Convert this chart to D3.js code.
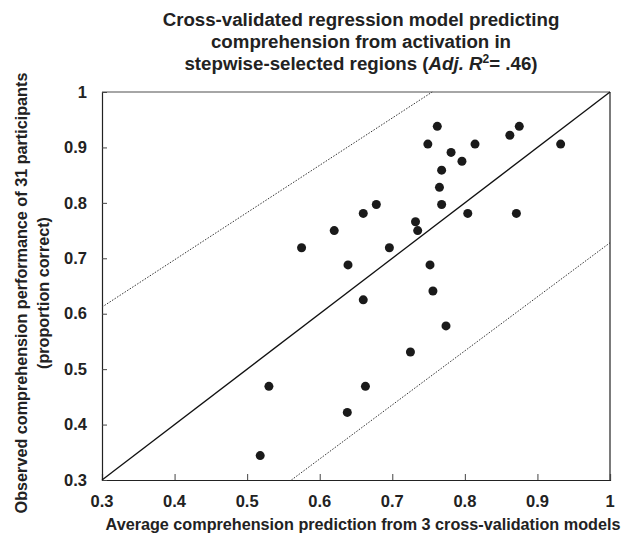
<!DOCTYPE html>
<html>
<head>
<meta charset="utf-8">
<script src="https://cdn.jsdelivr.net/npm/d3@7"></script>
<style>
  body { margin: 0; background: #fff; }
  text { font-family: "Liberation Sans", Arial, sans-serif; font-weight: bold; fill: #222; }
</style>
</head>
<body>
<div id="chart"></div>
<script>
// predicted (x) vs observed (y) comprehension, one per participant
var predicted = [0.762, 0.875, 0.862, 0.749, 0.814, 0.932, 0.781, 0.796, 0.768, 0.765,
    0.768, 0.678, 0.660, 0.804, 0.871, 0.732, 0.735, 0.696, 0.752, 0.639,
    0.620, 0.575, 0.530, 0.638, 0.518, 0.660, 0.756, 0.774, 0.725, 0.663];
var observed = [0.938, 0.938, 0.922, 0.906, 0.906, 0.906, 0.891, 0.875, 0.859, 0.828,
    0.797, 0.797, 0.781, 0.781, 0.781, 0.766, 0.750, 0.719, 0.688, 0.688,
    0.750, 0.719, 0.469, 0.422, 0.344, 0.625, 0.641, 0.578, 0.531, 0.469];
var xTicks = [0.3, 0.4, 0.5, 0.6, 0.7, 0.8, 0.9, 1];
var yTicks = [0.3, 0.4, 0.5, 0.6, 0.7, 0.8, 0.9, 1];
// identity line and the two dotted bounds, as [x, y] ends
var identityLine = [[0.3, 0.3], [1, 1]];
var upperBound = [[0.3, 0.612], [0.755, 1]];
var lowerBound = [[0.561, 0.3], [1, 0.728]];

var margin = { top: 92, right: 23, bottom: 55, left: 102 },
    width = 633 - margin.left - margin.right,
    height = 535 - margin.top - margin.bottom;

var svgRoot = d3.select("#chart")
    .append("svg")
    .attr("width", 633)
    .attr("height", 535);

var svg = svgRoot.append("g")
    .attr("transform", "translate(" + margin.left + "," + margin.top + ")");

var x = d3.scaleLinear().domain([0.3, 1]).range([0, width]);
var y = d3.scaleLinear().domain([0.3, 1]).range([height, 0]);

// title
var title = svgRoot.append("text")
    .attr("text-anchor", "middle")
    .style("font-size", "18.7px");
title.append("tspan").attr("x", 361).attr("y", 26).text("Cross-validated regression model predicting");
title.append("tspan").attr("x", 361).attr("y", 48).text("comprehension from activation in");
var l3 = title.append("tspan").attr("x", 361).attr("y", 70);
l3.append("tspan").text("stepwise-selected regions (");
l3.append("tspan").style("font-style", "italic").text("Adj. R");
l3.append("tspan").attr("dy", -7).style("font-size", "12px").text("2");
l3.append("tspan").attr("dy", 7).text("= .46)");

// frame: top border grey, others dark
svg.append("line")
    .attr("x1", 0).attr("x2", width).attr("y1", 0).attr("y2", 0)
    .attr("stroke", "#888").attr("stroke-width", 1.5);
svg.append("line")
    .attr("x1", width).attr("x2", width).attr("y1", 0).attr("y2", height)
    .attr("stroke", "#222").attr("stroke-width", 1.2);

var xAxis = svg.append("g")
    .attr("transform", "translate(0," + height + ")")
    .call(d3.axisTop(x).tickValues(xTicks).tickSize(6).tickFormat(""));
var yAxis = svg.append("g")
    .call(d3.axisRight(y).tickValues(yTicks).tickSize(5).tickFormat(""));
svg.selectAll(".domain").attr("stroke", "#222").attr("stroke-width", 1.2);
svg.selectAll(".tick line").attr("stroke", "#444");

svg.selectAll(".xlab")
    .data(xTicks)
    .enter().append("text")
    .attr("x", function (d) { return x(d); })
    .attr("y", height + 27)
    .attr("text-anchor", "middle")
    .style("font-size", "16.5px")
    .text(function (d) { return d === 1 ? "1" : d3.format(".1f")(d); });

svg.selectAll(".ylab")
    .data(yTicks)
    .enter().append("text")
    .attr("x", -15)
    .attr("y", function (d) { return y(d); })
    .attr("dy", ".35em")
    .attr("text-anchor", "end")
    .style("font-size", "16.5px")
    .text(function (d) { return d === 1 ? "1" : d3.format(".1f")(d); });

// axis titles
svgRoot.append("text")
    .attr("x", 363)
    .attr("y", 530)
    .attr("text-anchor", "middle")
    .style("font-size", "16.2px")
    .text("Average comprehension prediction from 3 cross-validation models");

var yt = svgRoot.append("text")
    .attr("transform", "translate(0,293) rotate(-90)")
    .attr("text-anchor", "middle")
    .style("font-size", "16.2px");
yt.append("tspan").attr("x", 0).attr("y", 27).text("Observed comprehension performance of 31 participants");
yt.append("tspan").attr("x", 0).attr("y", 49).text("(proportion correct)");

var line = d3.line()
    .x(function (d) { return x(d[0]); })
    .y(function (d) { return y(d[1]); });

svg.append("path")
    .attr("d", line(identityLine))
    .attr("fill", "none")
    .attr("stroke", "#111")
    .attr("stroke-width", 1.3);

[upperBound, lowerBound].forEach(function (b) {
    svg.append("path")
        .attr("d", line(b))
        .attr("fill", "none")
        .attr("stroke", "#333")
        .attr("stroke-width", 1)
        .attr("stroke-dasharray", "1.5,1.5");
});

svg.selectAll("circle")
    .data(predicted)
    .enter()
    .append("circle")
    .attr("cx", function (d) { return x(d); })
    .attr("cy", function (d, i) { return y(observed[i]); })
    .attr("r", 4.5)
    .attr("fill", "#1a1a1a");
</script>
</body>
</html>
